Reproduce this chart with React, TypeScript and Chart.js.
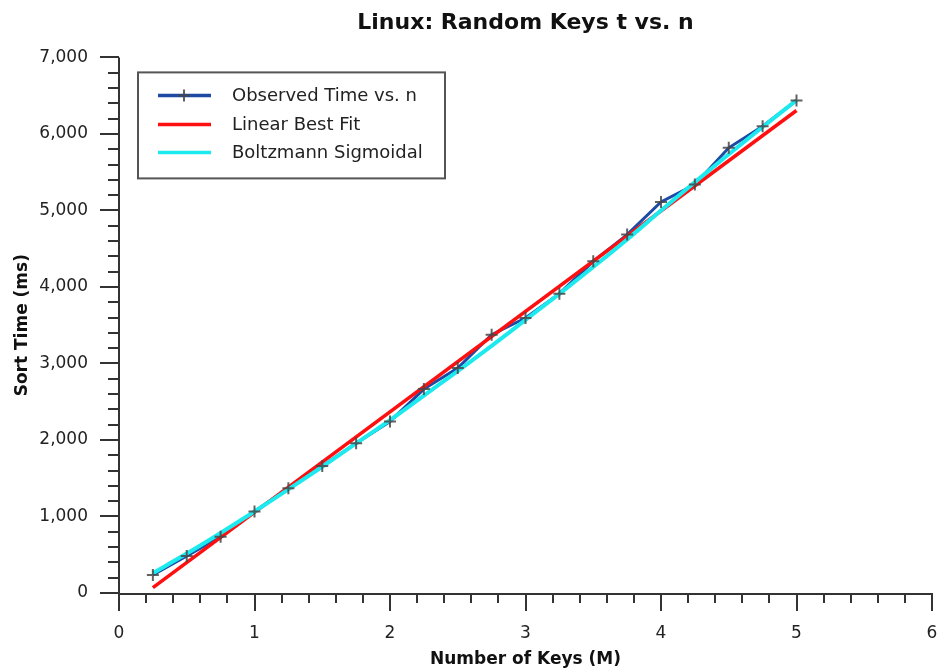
import React, { useEffect, useRef } from 'react';
import { Chart, registerables } from 'chart.js';

Chart.register(...registerables);

const chartTitle = 'Linux: Random Keys t vs. n';
const xAxisTitle = 'Number of Keys (M)';
const yAxisTitle = 'Sort Time (ms)';
const legendLabels = ['Observed Time vs. n', 'Linear Best Fit', 'Boltzmann Sigmoidal'];

const keysM = [0.25, 0.5, 0.75, 1.0, 1.25, 1.5, 1.75, 2.0, 2.25, 2.5, 2.75, 3.0, 3.25, 3.5, 3.75, 4.0, 4.25, 4.5, 4.75, 5.0];
const observedMs = [235, 484, 735, 1064, 1370, 1660, 1958, 2242, 2665, 2940, 3376, 3594, 3912, 4335, 4684, 5110, 5338, 5818, 6101, 6437];
const fitKeysM = [0.25, 5.0];
const linearFitMs = [70, 6306];
const sigmoidMs = [260, 515, 785, 1065, 1355, 1650, 1955, 2260, 2580, 2900, 3230, 3570, 3910, 4260, 4620, 5000, 5370, 5735, 6090, 6440];

const xTicks = [0, 1, 2, 3, 4, 5, 6];
const yTicks = [0, 1000, 2000, 3000, 4000, 5000, 6000, 7000];

const FONT = "'DejaVu Sans', Verdana, sans-serif";
const AXIS_COLOR = '#333333';
const BLUE = '#1d4aa5';
const RED = '#ff1010';
const CYAN = '#1ceaee';
const MARKER = 'rgba(70,70,70,0.85)';

const axesPlugin = {
  id: 'originAxes',
  afterDraw(chart: any) {
    const { ctx, chartArea, scales } = chart;
    const xs = scales.x;
    const ys = scales.y;
    const axisY = chartArea.bottom + 1;
    const axisX = chartArea.left;
    ctx.save();
    ctx.strokeStyle = AXIS_COLOR;
    ctx.lineWidth = 2;
    ctx.beginPath();
    ctx.moveTo(axisX, chartArea.top);
    ctx.lineTo(axisX, chartArea.bottom);
    ctx.moveTo(axisX - 1, axisY);
    ctx.lineTo(chartArea.right + 1, axisY);
    const xMin = xTicks[0];
    const xMax = xTicks[xTicks.length - 1];
    for (let i = 0; i <= (xMax - xMin) * 5; i++) {
      const v = xMin + i * 0.2;
      const px = Math.round(xs.getPixelForValue(v));
      const major = i % 5 === 0;
      ctx.moveTo(px, axisY);
      ctx.lineTo(px, axisY + (major ? 17 : 9));
    }
    const yMax = yTicks[yTicks.length - 1];
    for (let i = 0; i <= yMax / 200; i++) {
      const v = i * 200;
      const py = Math.round(ys.getPixelForValue(v));
      const major = i % 5 === 0;
      ctx.moveTo(axisX, py);
      ctx.lineTo(axisX - (major ? 19 : 11), py);
    }
    ctx.stroke();

    // legend box
    const bx = chartArea.left + 19;
    const by = chartArea.top + 15;
    const bw = 307;
    const bh = 106;
    ctx.fillStyle = '#ffffff';
    ctx.fillRect(bx, by, bw, bh);
    ctx.strokeStyle = '#555555';
    ctx.lineWidth = 2;
    ctx.strokeRect(bx, by, bw, bh);
    const colors = [BLUE, RED, CYAN];
    const rows = [23, 52, 80];
    ctx.font = `18px ${FONT}`;
    ctx.textBaseline = 'middle';
    ctx.textAlign = 'left';
    legendLabels.forEach((label, i) => {
      const y = by + rows[i];
      ctx.strokeStyle = colors[i];
      ctx.lineWidth = 3.5;
      ctx.beginPath();
      ctx.moveTo(bx + 20, y);
      ctx.lineTo(bx + 73, y);
      ctx.stroke();
      if (i === 0) {
        ctx.strokeStyle = MARKER;
        ctx.lineWidth = 2;
        ctx.beginPath();
        ctx.moveTo(bx + 46, y - 6);
        ctx.lineTo(bx + 46, y + 6);
        ctx.moveTo(bx + 40, y);
        ctx.lineTo(bx + 52, y);
        ctx.stroke();
      }
      ctx.fillStyle = '#222222';
      ctx.fillText(label, bx + 94, y + 1);
    });
    ctx.restore();
  },
};

export default function App() {
  const canvasRef = useRef<HTMLCanvasElement | null>(null);

  useEffect(() => {
    const canvas = canvasRef.current;
    if (!canvas) return;
    const observedPts = keysM.map((x, i) => ({ x, y: observedMs[i] }));
    const chart = new Chart(canvas, {
      type: 'line',
      data: {
        datasets: [
          {
            label: 'markers',
            data: observedPts,
            showLine: false,
            pointStyle: 'cross',
            pointRadius: 6,
            pointBorderWidth: 2,
            pointBorderColor: MARKER,
            pointBackgroundColor: MARKER,
            order: 0,
          },
          {
            label: legendLabels[2],
            data: keysM.map((x, i) => ({ x, y: sigmoidMs[i] })),
            borderColor: CYAN,
            borderWidth: 4,
            pointRadius: 0,
            cubicInterpolationMode: 'monotone',
            order: 1,
          },
          {
            label: legendLabels[1],
            data: fitKeysM.map((x, i) => ({ x, y: linearFitMs[i] })),
            borderColor: RED,
            borderWidth: 3.5,
            pointRadius: 0,
            order: 2,
          },
          {
            label: legendLabels[0],
            data: observedPts,
            borderColor: BLUE,
            borderWidth: 3,
            pointRadius: 0,
            order: 3,
          },
        ],
      },
      options: {
        responsive: false,
        animation: false,
        layout: { padding: { left: 0, right: 8, top: 0, bottom: 0 } },
        plugins: {
          legend: { display: false },
          tooltip: { enabled: false },
          title: {
            display: true,
            text: chartTitle,
            fullSize: false,
            color: '#111111',
            font: { family: FONT, size: 22, weight: 'bold' },
            padding: { top: 10, bottom: 21 },
          },
        },
        scales: {
          x: {
            type: 'linear',
            min: xTicks[0],
            max: xTicks[xTicks.length - 1],
            afterFit: (s: any) => { s.height = 78; s.paddingLeft = 0; s.paddingRight = 0; },
            afterBuildTicks: (s: any) => { s.ticks = xTicks.map((v) => ({ value: v })); },
            grid: { display: false },
            border: { display: false },
            ticks: {
              padding: 22,
              color: '#222222',
              font: { family: FONT, size: 17 },
              callback: (v: any) => String(v),
            },
            title: {
              display: true,
              text: xAxisTitle,
              color: '#111111',
              font: { family: FONT, size: 17, weight: 'bold' },
              padding: { top: 0, bottom: 1 },
            },
          },
          y: {
            type: 'linear',
            min: yTicks[0],
            max: yTicks[yTicks.length - 1],
            afterFit: (s: any) => { s.width = 119; },
            afterBuildTicks: (s: any) => { s.ticks = yTicks.map((v) => ({ value: v })); },
            grid: { display: false },
            border: { display: false },
            ticks: {
              padding: 23,
              color: '#222222',
              font: { family: FONT, size: 17 },
              callback: (v: any) => Number(v).toLocaleString('en-US'),
            },
            title: {
              display: true,
              text: yAxisTitle,
              color: '#111111',
              font: { family: FONT, size: 17, weight: 'bold' },
              padding: { top: 12, bottom: 0 },
            },
          },
        },
      },
      plugins: [axesPlugin],
    });
    return () => chart.destroy();
  }, []);

  return (
    <div style={{ position: 'absolute', left: 0, top: 0, width: 940, height: 671, background: '#ffffff' }}>
      <canvas ref={canvasRef} width={940} height={671} />
    </div>
  );
}
